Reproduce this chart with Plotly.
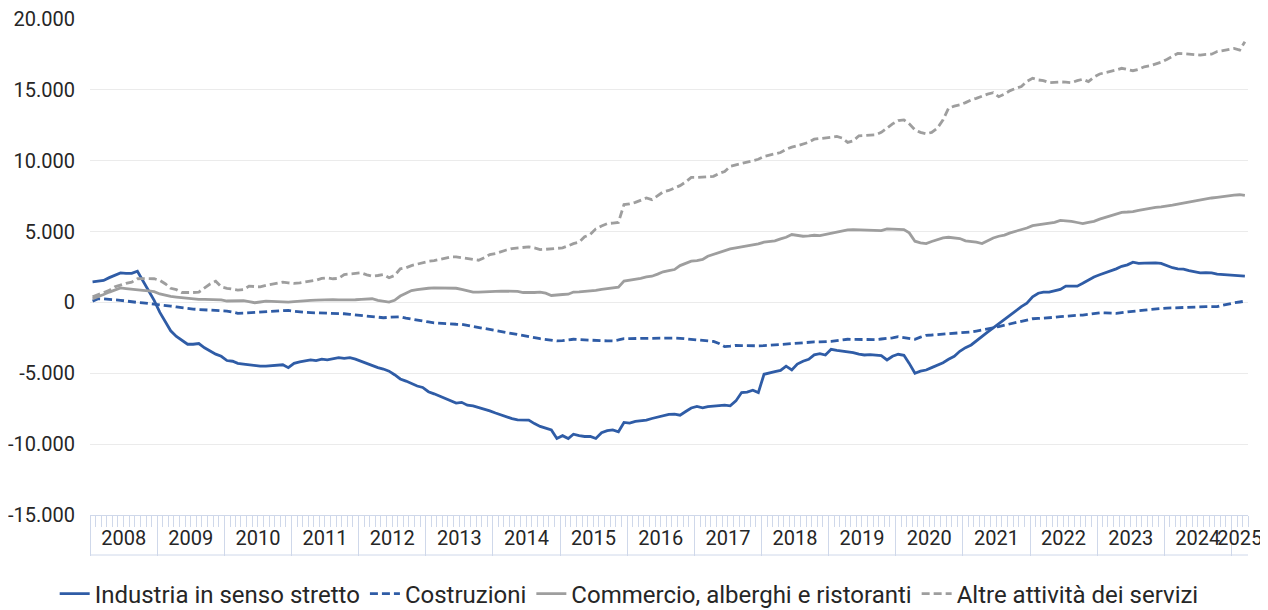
import pandas as pd
import plotly.graph_objects as go

start_month = "2008-01-01"
n_months = 207

industria = [
    1450, 1480, 1550, 1750, 1900, 2080, 2050, 2050, 2200, 1500, 800, 150,
    -700, -1400, -2000, -2400, -2700, -2950, -2950, -2900, -3200, -3450, -3650, -3800,
    -4100, -4150, -4300, -4350, -4400, -4500, -4500, -4500, -4480, -4450, -4400, -4600,
    -4300, -4200, -4150, -4050, -4100, -4000, -4050, -3950, -3900, -3950, -3900, -4000,
    -4150, -4350, -4450, -4600, -4700, -4850, -5100, -5400, -5550, -5750, -5900, -6000,
    -6300, -6450, -6600, -6800, -6950, -7100, -7050, -7250, -7300, -7400, -7530, -7650,
    -7800, -7950, -8050, -8200, -8290, -8290, -8300, -8550, -8750, -8870, -9000, -9600,
    -9400, -9600, -9300, -9400, -9460, -9450, -9600, -9200, -9050, -8990, -9130, -8470,
    -8520, -8400, -8360, -8300, -8190, -8100, -8000, -7900, -7890, -7960, -7700, -7450,
    -7340, -7440, -7350, -7300, -7300, -7250, -7300, -6950, -6360, -6330, -6200, -6360,
    -5070, -4950, -4880, -4800, -4500, -4770, -4350, -4150, -4010, -3700, -3620, -3710,
    -3310, -3380, -3430, -3500, -3540, -3650, -3710, -3680, -3730, -3760, -4060, -3800,
    -3660, -3730, -4300, -5000, -4850, -4770, -4600, -4450, -4250, -4010, -3800, -3450,
    -3190, -3000, -2700, -2400, -2100, -1800, -1500, -1250, -900, -600, -300, -50,
    400, 650, 730, 730, 850, 920, 1150, 1150, 1150, 1350, 1600, 1800,
    1950, 2090, 2250, 2370, 2550, 2650, 2840, 2750, 2780, 2800, 2790, 2750,
    2600, 2450, 2370, 2350, 2250, 2150, 2090, 2100, 2090, 2000, 1970, 1950,
    1880, 1850, 1850,
]

costruzioni = [
    90, 260, 250, 230, 210, 150, 100, 30, 0, -30, -70, -100,
    -160, -210, -260, -320, -380, -420, -470, -500, -520, -540, -570, -600,
    -610, -680, -770, -760, -730, -720, -700, -680, -650, -620, -580, -560,
    -620, -680, -700, -720, -730, -730, -730, -730, -760, -800, -840, -880,
    -930, -960, -1000, -1040, -1080, -1050, -1020, -1010, -1100, -1180, -1250, -1300,
    -1380, -1450, -1480, -1500, -1520, -1540, -1550, -1620, -1700, -1780, -1850, -1910,
    -1980, -2050, -2090, -2150, -2230, -2320, -2400, -2480, -2560, -2620, -2680, -2720,
    -2700, -2650, -2600, -2620, -2650, -2680, -2680, -2700, -2710, -2720, -2650, -2560,
    -2550, -2540, -2530, -2520, -2500, -2490, -2490, -2500, -2510, -2530, -2560, -2600,
    -2640, -2680, -2720, -2750, -2900, -3120, -3080, -3030, -3050, -3070, -3080, -3060,
    -3050, -3020, -3000, -2980, -2960, -2920, -2880, -2840, -2790, -2790, -2790, -2790,
    -2750, -2700, -2650, -2600, -2610, -2620, -2640, -2650, -2620, -2580, -2560, -2500,
    -2420, -2480, -2550, -2600, -2450, -2320, -2300, -2270, -2250, -2220, -2190, -2160,
    -2130, -2080, -2020, -1950, -1900, -1800, -1700, -1600, -1500, -1420, -1350, -1250,
    -1150, -1130, -1110, -1100, -1050, -1000, -960, -930, -910, -890, -830, -780,
    -730, -740, -760, -770, -720, -660, -610, -580, -540, -490, -460, -430,
    -400, -380, -360, -350, -340, -320, -300, -300, -300, -300, -200, -100,
    -30, 30, 90,
]

commercio = [
    260, 400, 560, 730, 880, 1030, 980, 920, 880, 850, 810, 760,
    600, 480, 420, 380, 330, 290, 250, 220, 210, 210, 210, 180,
    100, 110, 140, 120, 50, -20, 30, 90, 70, 50, 30, 20,
    60, 100, 140, 150, 160, 180, 210, 200, 180, 170, 160, 190,
    210, 240, 260, 150, 90, 20, 150, 450, 650, 840, 900, 960,
    1000, 1030, 1030, 1030, 1030, 1000, 920, 850, 730, 730, 730, 730,
    780, 800, 800, 800, 780, 700, 680, 700, 730, 650, 490, 500,
    560, 580, 730, 750, 780, 800, 850, 920, 960, 1020, 1080, 1500,
    1550, 1620, 1700, 1800, 1850, 2000, 2160, 2250, 2320, 2600, 2750, 2910,
    2950, 3030, 3260, 3400, 3540, 3650, 3780, 3850, 3920, 3980, 4010, 4130,
    4250, 4290, 4340, 4480, 4600, 4790, 4720, 4670, 4700, 4740, 4720, 4800,
    4910, 5000, 5090, 5120, 5140, 5130, 5100, 5090, 5080, 5070, 5190, 5170,
    5160, 5140, 4910, 4320, 4200, 4150, 4300, 4450, 4550, 4600, 4550, 4510,
    4350, 4320, 4250, 4150, 4350, 4550, 4670, 4750, 4910, 5020, 5140, 5250,
    5420, 5480, 5530, 5560, 5650, 5790, 5760, 5720, 5640, 5560, 5650, 5720,
    5880, 6000, 6080, 6200, 6360, 6380, 6410, 6500, 6580, 6670, 6710, 6750,
    6780, 6860, 6940, 7020, 7080, 7130, 7200, 7300, 7370, 7420, 7480, 7520,
    7570, 7600, 7550,
]

altre = [
    400, 550, 680, 850, 1100, 1250, 1350, 1430, 1670, 1680, 1670, 1670,
    1550, 1300, 1000, 900, 700, 680, 700, 730, 1000, 1300, 1500, 1100,
    1000, 950, 870, 900, 1150, 1120, 1100, 1200, 1270, 1350, 1430, 1380,
    1340, 1380, 1430, 1500, 1570, 1700, 1740, 1670, 1700, 1970, 2000, 2050,
    2090, 1950, 1850, 1900, 1970, 1740, 1900, 2370, 2450, 2600, 2700, 2840,
    2900, 2950, 3030, 3100, 3200, 3220, 3150, 3080, 3000, 2980, 3150, 3380,
    3450, 3610, 3700, 3800, 3850, 3880, 3920, 3850, 3730, 3750, 3780, 3800,
    3850, 4000, 4150, 4250, 4630, 4800, 5190, 5400, 5560, 5600, 5650, 6900,
    6950, 7060, 7200, 7370, 7250, 7530, 7800, 7900, 8100, 8240, 8500, 8820,
    8820, 8840, 8850, 8900, 9100, 9240, 9600, 9700, 9790, 9850, 9950, 10100,
    10300, 10400, 10500, 10580, 10800, 10960, 11050, 11170, 11300, 11520, 11550, 11590,
    11650, 11710, 11600, 11290, 11400, 11760, 11780, 11800, 11830, 12000, 12300, 12600,
    12830, 12880, 12600, 12180, 12000, 11900, 12000, 12300, 12880, 13710, 13850, 13940,
    14100, 14290, 14400, 14570, 14700, 14800, 14520, 14700, 14950, 15100, 15230, 15600,
    15820, 15700, 15650, 15510, 15540, 15560, 15540, 15510, 15650, 15750, 15580, 15900,
    16120, 16200, 16280, 16400, 16520, 16450, 16350, 16450, 16630, 16700, 16820, 16950,
    17150, 17350, 17570, 17550, 17520, 17480, 17450, 17500, 17520, 17700, 17760, 17850,
    17920, 17810, 18400,
]

series_names = [
    "Industria in senso stretto",
    "Costruzioni",
    "Commercio, alberghi e ristoranti",
    "Altre attività dei servizi",
]

y_tickvals = [-15000, -10000, -5000, 0, 5000, 10000, 15000, 20000]
y_ticktext = ["-15.000", "-10.000", "-5.000", "0", "5.000", "10.000", "15.000", "20.000"]

BLUE = "#2f5ca6"
GRAY = "#9e9e9e"
AXIS_LIGHT = "#cfd8ea"
FONT = "Roboto"
TXT = "#262626"

month_starts = pd.date_range(start_month, periods=n_months, freq="MS")
x_vals = month_starts + pd.Timedelta(days=14)
x_start = month_starts[0]
x_end = month_starts[-1] + pd.offsets.MonthBegin(1)

# year label positions: middle of the visible part of each year
years = sorted(set(month_starts.year))
year_centers = []
for yr in years:
    a = max(pd.Timestamp(f"{yr}-01-01"), x_start)
    b = min(pd.Timestamp(f"{yr + 1}-01-01"), x_end)
    year_centers.append(a + (b - a) / 2)
year_text = [str(yr) for yr in years]

styles = [
    dict(color=BLUE, dash="solid", xaxis="x"),
    dict(color=BLUE, dash="8px,4px", xaxis="x"),
    dict(color=GRAY, dash="solid", xaxis="x"),
    dict(color=GRAY, dash="8px,4px", xaxis="x2"),
]
data = [industria, costruzioni, commercio, altre]

fig = go.Figure()
for name, vals, st in zip(series_names, data, styles):
    fig.add_trace(go.Scatter(
        x=x_vals, y=vals, name=name, mode="lines",
        xaxis=st["xaxis"], yaxis="y",
        line=dict(color=st["color"], width=2.8, dash=st["dash"]),
    ))

# page body adds an 8px offset; figure is sized to fit the 1268x610 window
W, H = 1260, 602
ML, MR, MT, MB = 82, 20, 11, 95
H_PLOT = H - MT - MB
fig.update_layout(
    width=W, height=H,
    margin=dict(l=ML, r=MR, t=MT, b=MB, autoexpand=False),
    paper_bgcolor="white", plot_bgcolor="white",
    font=dict(family=FONT, size=20, color=TXT),
    showlegend=True,
    legend=dict(
        orientation="h", xref="container", yref="container",
        x=0.493, y=1 - 586 / H, xanchor="center", yanchor="middle",
        font=dict(family=FONT, size=24, color=TXT),
        itemwidth=30, tracegroupgap=0,
    ),
    xaxis=dict(
        type="date",
        range=[x_start, x_end],
        showgrid=False, zeroline=False,
        showline=True, linecolor=AXIS_LIGHT, linewidth=1,
        dtick="M12", tick0=start_month,
        ticks="outside", ticklen=40, tickcolor=AXIS_LIGHT, tickwidth=1,
        showticklabels=False,
        minor=dict(dtick="M1", tick0=start_month, ticks="outside", ticklen=11,
                   tickcolor=AXIS_LIGHT, tickwidth=1, showgrid=False),
    ),
    xaxis2=dict(
        type="date", overlaying="x", anchor="y", side="bottom",
        range=[x_start, x_end],
        showgrid=False, zeroline=False, showline=False,
        tickmode="array", tickvals=year_centers, ticktext=year_text,
        ticks="", ticklabelstandoff=9, tickangle=0,
        ticklabeloverflow="allow",
        tickfont=dict(family=FONT, size=20, color=TXT),
    ),
    yaxis=dict(
        range=[-15000, 20000],
        tickvals=y_tickvals, ticktext=y_ticktext,
        showgrid=True, gridcolor="#ebebeb", gridwidth=1,
        zeroline=False, showline=False, ticks="",
        ticklabelstandoff=14, ticklabeloverflow="allow",
        tickfont=dict(family=FONT, size=20, color=TXT),
    ),
    shapes=[dict(type="line", xref="paper", yref="paper",
                 x0=0, x1=1, y0=-40 / H_PLOT, y1=-40 / H_PLOT,
                 line=dict(color=AXIS_LIGHT, width=1))],
)

fig.write_html("out.html")
